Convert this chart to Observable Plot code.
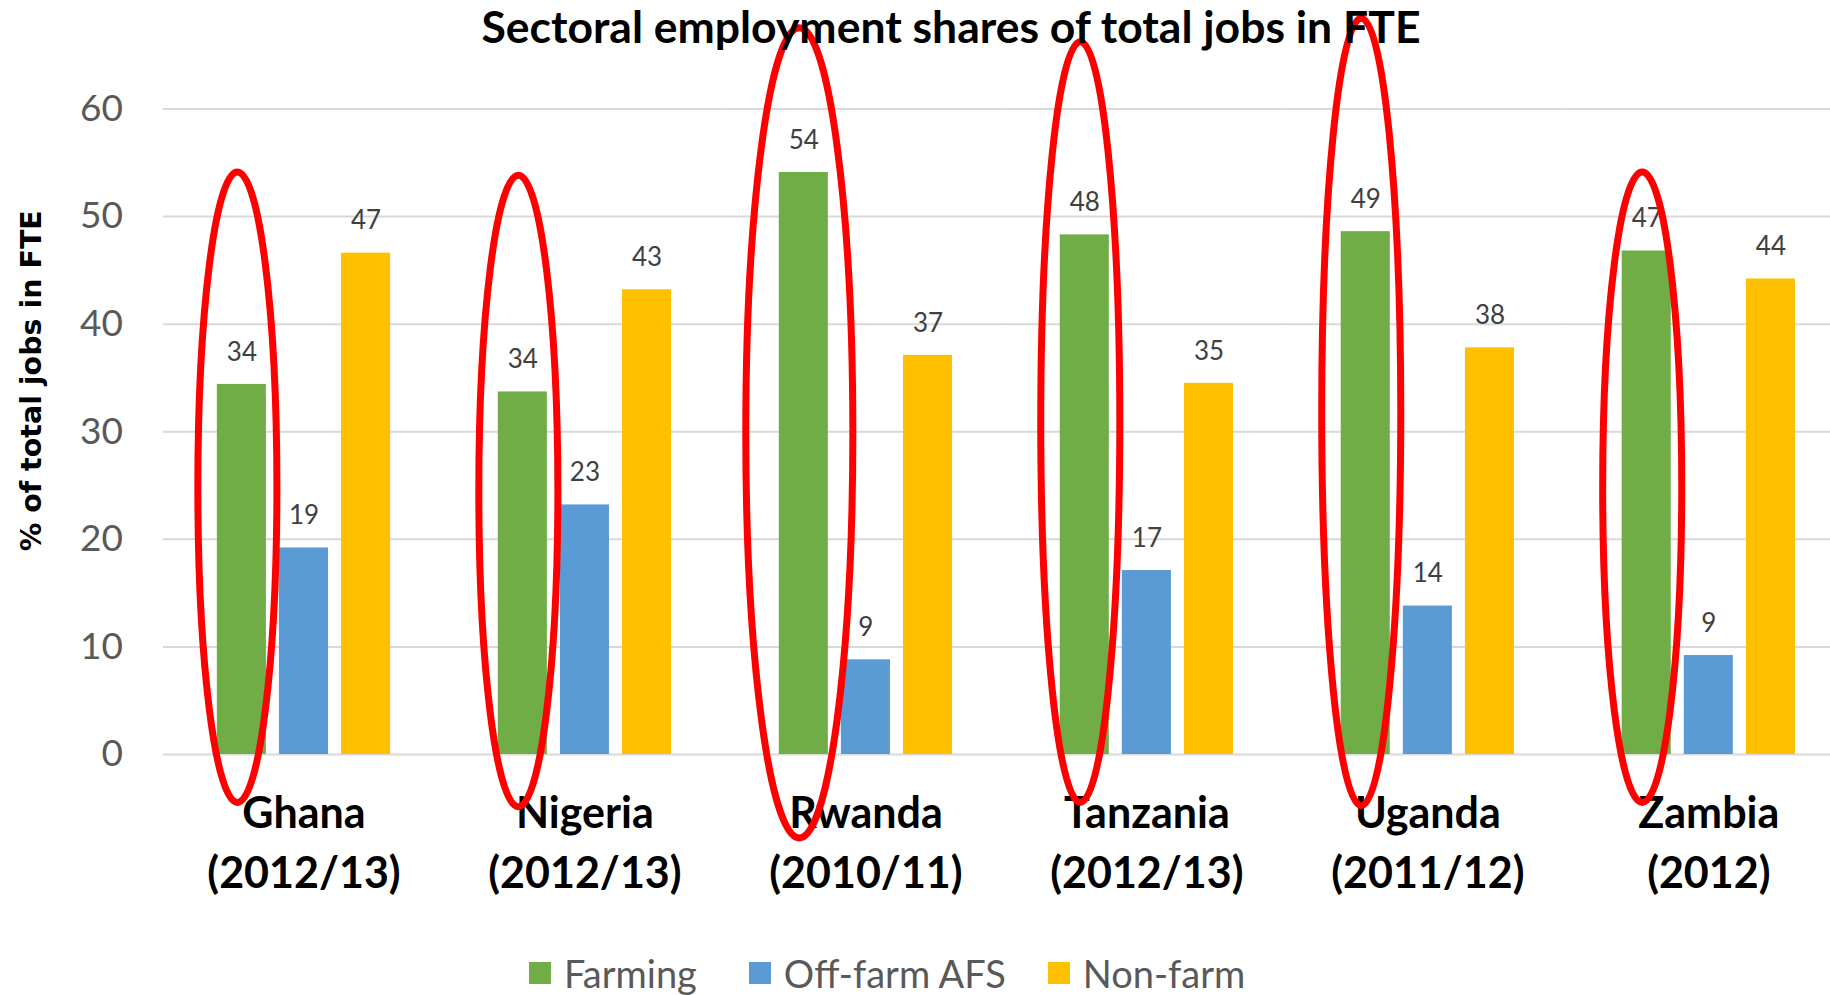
<!DOCTYPE html>
<html>
<head>
<meta charset="utf-8">
<script src="https://cdn.jsdelivr.net/npm/d3@7"></script>
<script src="https://cdn.jsdelivr.net/npm/@observablehq/plot@0.6"></script>
<style>
  html, body { margin: 0; padding: 0; background: #fff; }
  body { width: 1830px; height: 995px; overflow: hidden; position: relative; font-family: Lato, sans-serif; }
  #title { height: 56px; line-height: 52px; width: 1830px; text-align: center; font-weight: 700; font-size: 44.5px; color: #000; position: relative; left: 36px; }
  #chart svg { overflow: visible; background: transparent; }
  #legend { position: absolute; left: 529px; top: 950px; display: flex; align-items: center; font-size: 38px; color: #595959; }
  #legend .item { display: flex; align-items: center; }
  #legend .sw { width: 22px; height: 22px; margin-right: 13px; }
</style>
</head>
<body>
<div id="title">Sectoral employment shares of total jobs in FTE</div>
<div id="chart"></div>
<div id="legend"></div>
<script>
const countries = ["Ghana", "Nigeria", "Rwanda", "Tanzania", "Uganda", "Zambia"];
const years = ["(2012/13)", "(2012/13)", "(2010/11)", "(2012/13)", "(2011/12)", "(2012)"];
const sectors = ["Farming", "Off-farm AFS", "Non-farm"];
const farming = [34.4, 33.7, 54.1, 48.3, 48.6, 46.8];
const offFarm = [19.2, 23.2, 8.8, 17.1, 13.8, 9.2];
const nonFarm = [46.6, 43.2, 37.1, 34.5, 37.8, 44.2];
const yTicks = [0, 10, 20, 30, 40, 50, 60];
const sectorColors = ["#70ad47", "#5b9bd5", "#ffc000"];
const yTitle = "% of total jobs in FTE";
// red highlight ellipses around the Farming bars (value extents)
const ellipseTop = [54.1, 53.8, 67.5, 66.2, 68.4, 54.1];
const ellipseBottom = [-4.5, -4.9, -7.8, -4.5, -4.8, -4.5];

const series = [farming, offFarm, nonFarm];
const data = [];
countries.forEach((c, i) => sectors.forEach((s, j) => data.push({country: c, sector: s, value: series[j][i]})));
const ellipses = countries.map((c, i) => ({country: c, top: ellipseTop[i], bottom: ellipseBottom[i]}));
const yearOf = Object.fromEntries(countries.map((c, i) => [c, years[i]]));

const ellipseStyle = {fx: "country", x: () => "Farming", y1: "bottom", y2: "top", fill: "none", stroke: "#ff0000", strokeWidth: 7, rx: 2000, ry: 2000, dx: -4};

const plot = Plot.plot({
  width: 1830,
  height: 884,
  marginLeft: 163,
  marginRight: 0,
  marginTop: 52.5,
  marginBottom: 186,
  style: {fontFamily: "Lato, sans-serif", overflow: "visible", background: "transparent"},
  fx: {domain: countries, range: [163, 1848.8], padding: 0, round: false, label: null},
  x: {domain: sectors, paddingInner: 0.21, paddingOuter: 0.867, round: false, axis: null},
  y: {domain: [0, 60], axis: null},
  color: {domain: sectors, range: sectorColors},
  marks: [
    Plot.gridY(yTicks, {stroke: "#d9d9d9", strokeOpacity: 1, strokeWidth: 2}),
    Plot.axisY(yTicks, {tickSize: 0, tickPadding: 40.5, fontSize: 37, color: "#595959", label: null}),
    Plot.axisFx({anchor: "bottom", tickSize: 0, tickPadding: 31, fontSize: 43, fontWeight: "bold", fill: "#000", lineHeight: 1.4, label: null,
      tickFormat: c => c + "\n" + yearOf[c]}),
    Plot.barY(data, {fx: "country", x: "sector", y: "value", fill: "sector"}),
    Plot.text(data, {fx: "country", x: "sector", y: "value", text: d => String(Math.round(d.value)), dy: -32, lineAnchor: "middle", fontSize: 26, fill: "#404040"}),
    Plot.text([{country: "Ghana"}], {fx: "country", frameAnchor: "left", textAnchor: "middle", lineAnchor: "middle", text: () => yTitle, rotate: -90, dx: -132, dy: -51, fontFamily: "DejaVu Sans", fontWeight: "bold", fontSize: 28.5, fill: "#000"}),
    Plot.barY(ellipses.filter(d => d.country !== "Rwanda"), {...ellipseStyle, insetLeft: -15, insetRight: -15}),
    Plot.barY(ellipses.filter(d => d.country === "Rwanda"), {...ellipseStyle, insetLeft: -29, insetRight: -29})
  ]
});
document.getElementById("chart").appendChild(plot);

const legend = document.getElementById("legend");
const legendGaps = ["52px", "42px", "0px"];
sectors.forEach((s, i) => {
  const item = document.createElement("div");
  item.className = "item";
  item.style.marginRight = legendGaps[i];
  const sw = document.createElement("div");
  sw.className = "sw";
  sw.style.background = sectorColors[i];
  const t = document.createElement("span");
  t.textContent = s;
  item.appendChild(sw);
  item.appendChild(t);
  legend.appendChild(item);
});
</script>
</body>
</html>
